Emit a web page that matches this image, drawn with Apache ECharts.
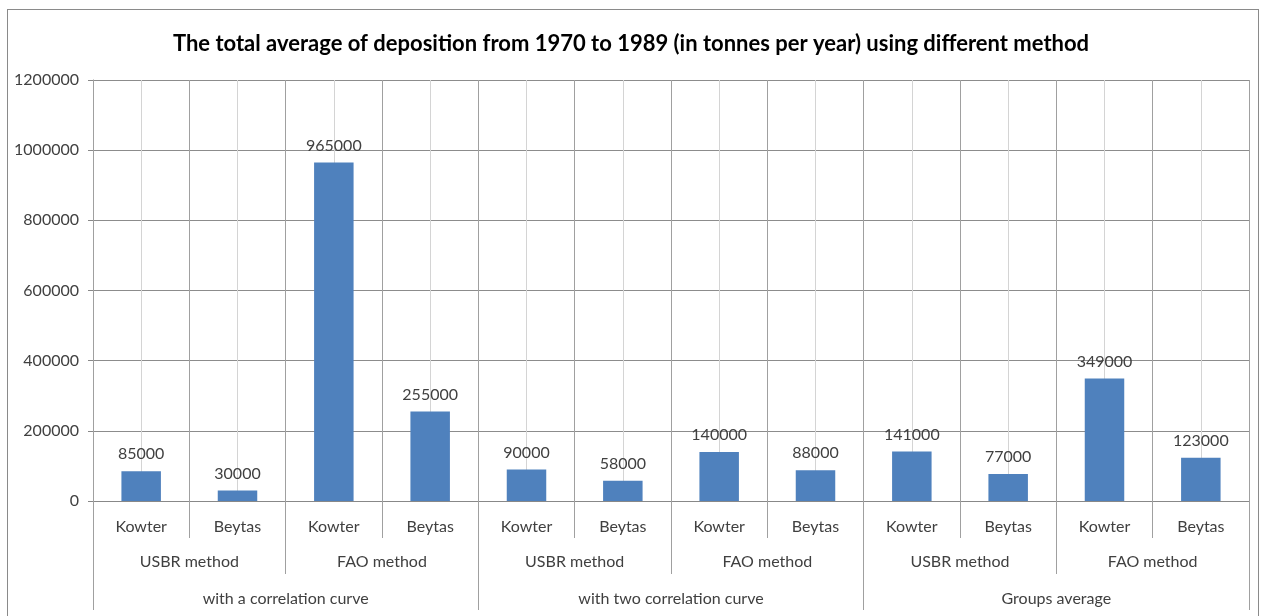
<!DOCTYPE html>
<html>
<head>
<meta charset="utf-8">
<script src="https://cdn.jsdelivr.net/npm/echarts@6/dist/echarts.min.js"></script>
<style>
html,body{margin:0;padding:0;background:#fff;}
#chart{width:1262px;height:616px;}
#frame{position:absolute;left:7px;top:9px;width:1250px;height:620px;border:1px solid #8a8a8a;pointer-events:none;}
</style>
</head>
<body>
<div id="chart"></div>
<div id="frame"></div>
<script>
const stations = ['Kowter','Beytas','Kowter','Beytas','Kowter','Beytas','Kowter','Beytas','Kowter','Beytas','Kowter','Beytas'];
const methods = ['USBR method','FAO method','USBR method','FAO method','USBR method','FAO method'];
const groups = ['with a correlation curve','with two correlation curve','Groups average'];
const values = [85000,30000,965000,255000,90000,58000,140000,88000,141000,77000,349000,123000];
const yTicks = [0,200000,400000,600000,800000,1000000,1200000];

const font = 'Lato, "Noto Sans", sans-serif';
const txt = '#404040';
const dark = '#a0a0a0';

const chart = echarts.init(document.getElementById('chart'), null, {renderer:'canvas'});
chart.setOption({
  animation:false,
  title:{
    text:'The total average of deposition from 1970 to 1989 (in tonnes per year) using different method',
    left:'center', top:28,
    textStyle:{fontFamily:font, fontWeight:'bold', fontSize:22, color:'#000'}
  },
  grid:{left:93, right:13, top:80, bottom:115, containLabel:false},
  yAxis:{
    type:'value', min:yTicks[0], max:yTicks[yTicks.length-1], interval:200000,
    axisLine:{show:true, lineStyle:{color:'#888'}},
    axisTick:{show:true, length:5, lineStyle:{color:'#888'}},
    axisLabel:{fontFamily:font, fontSize:16, color:txt, margin:14, formatter:(v)=>String(v)},
    splitLine:{show:true, lineStyle:{color:'#8c8c8c'}}
  },
  xAxis:[
    {
      type:'category', data:stations, position:'bottom', z:2,
      axisLine:{show:true, lineStyle:{color:'#888'}},
      axisTick:{show:true, length:37, interval:0, lineStyle:{color:dark}},
      axisLabel:{interval:0, fontFamily:font, fontSize:16, color:txt, margin:18},
      splitLine:{show:true, interval:0, lineStyle:{color:dark}}
    },
    {
      type:'category', data:methods, position:'bottom', z:2,
      axisLine:{show:false},
      axisTick:{show:true, length:73, interval:0, lineStyle:{color:dark}},
      axisLabel:{interval:0, fontFamily:font, fontSize:16, color:txt, margin:53}
    },
    {
      type:'category', data:groups, position:'bottom', z:2,
      axisLine:{show:false},
      axisTick:{show:true, length:109, interval:0, lineStyle:{color:dark}},
      axisLabel:{interval:0, fontFamily:font, fontSize:16, color:txt, margin:90}
    },
    {
      type:'value', min:0, max:stations.length*2, interval:1, position:'top', z:1,
      axisLine:{show:false}, axisTick:{show:false}, axisLabel:{show:false},
      splitLine:{show:true, lineStyle:{color:'#d4d4d4'}}
    }
  ],
  series:[{
    type:'bar', xAxisIndex:0, data:values, barWidth:'41%', z:5,
    itemStyle:{color:'#4F81BD'},
    label:{show:true, position:'top', distance:9, fontFamily:font, fontSize:16, color:txt}
  }]
});
</script>
</body>
</html>
